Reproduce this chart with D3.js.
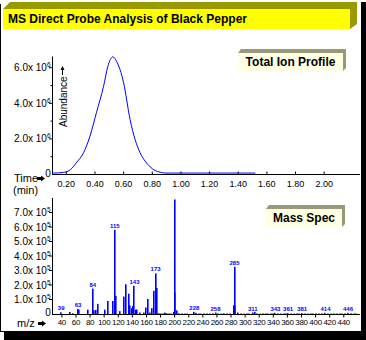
<!DOCTYPE html>
<html><head><meta charset="utf-8">
<script src="https://cdn.jsdelivr.net/npm/d3@7"></script>
<style>html,body{margin:0;padding:0;background:#fff;} svg{display:block;font-family:"Liberation Sans",Arial,sans-serif;}</style>
</head><body><svg id="c" width="366" height="340"></svg>
<script>
// ---------- data ----------
const titleText = "MS Direct Probe Analysis of Black Pepper";
// Total ion profile (time in min, abundance x 1e6)
const ticTime  = [0.10,0.11,0.18,0.23,0.27,0.32,0.365,0.41,0.46,0.49,0.525,0.55,0.60,0.645,0.68,0.715,0.75,0.785,0.82,0.855,0.89,1.52];
const ticAbund = [0.08,0.08,0.12,0.28,0.66,1.22,2.15,3.47,4.96,6.08,6.61,6.37,5.15,3.09,1.97,1.22,0.75,0.43,0.22,0.13,0.08,0.08];
const ticYTicks = [2,4,6];
const ticYLabels = ["2.0x 10","4.0x 10","6.0x 10"];
const ticXTicks = [0.2,0.4,0.6,0.8,1.0,1.2,1.4,1.6,1.8,2.0];
const ticXLabels = ["0.20","0.40","0.60","0.80","1.00","1.20","1.40","1.60","1.80","2.00"];
// Mass spectrum (m/z, abundance x 1e5)
const msMz    = [39,51,56,63,65,77,84,86,89,91,101,105,113,115,117,122,128,131,135,137,139,141,143,145,147,151,156,159,162,165,168,171,173,175,178,186,189,199,200,201,203,206,228,230,258,270,284,285,286,290,311,314,343,361,381,414,446];
const msAbund = [0.12,0.14,0.05,0.35,0.3,0.3,1.75,0.25,0.28,0.7,0.3,0.9,0.9,5.8,1.25,0.2,1.2,2.05,1.4,0.6,0.4,0.55,1.95,0.3,0.3,0.1,0.1,0.45,1.03,0.1,0.4,1.6,2.8,1.8,0.05,0.1,0.05,0.15,1.47,7.9,0.25,0.05,0.15,0.08,0.1,0.05,0.6,3.25,0.6,0.1,0.1,0.15,0.08,0.06,0.06,0.08,0.08];
const msMinorMz    = [180,183,192,195,210,214,218,234,238,242,246,250,254,262,266,274,278,294,298,302,306,317,321,325,329,333,337,340,347,351,355,358,365,369,373,377,385,389,393,397,401,405,409,418,422,426,430,434,438,442,450,454,458];
const msMinorAbund = [0.06,0.05,0.06,0.05,0.06,0.05,0.06,0.06,0.05,0.06,0.06,0.05,0.06,0.06,0.05,0.06,0.06,0.06,0.05,0.06,0.06,0.06,0.05,0.06,0.06,0.05,0.06,0.06,0.06,0.05,0.06,0.06,0.06,0.05,0.06,0.06,0.06,0.05,0.06,0.06,0.06,0.05,0.06,0.06,0.05,0.06,0.06,0.06,0.05,0.06,0.06,0.05,0.06];
const msLabelMz = [39,63,84,115,143,173,228,258,285,311,343,361,381,414,446];
const msLabels  = ["39","63","84","115","143","173","228","258","285","311","343","361","381","414","446"];
const msYTicks = [1,2,3,4,5,6,7];
const msYLabels = ["1.0x 10","2.0x 10","3.0x 10","4.0x 10","5.0x 10","6.0x 10","7.0x 10"];
const msXTicks = [40,60,80,100,120,140,160,180,200,220,240,260,280,300,320,340,360,380,400,420,440];

// ---------- frame ----------
const svg = d3.select("#c");
const BLUE = "#0000ff";
svg.append("rect").attr("x",4).attr("y",2).attr("width",362).attr("height",338).attr("fill","#000");
svg.append("rect").attr("x",0).attr("y",0).attr("width",361).attr("height",332).attr("fill","#fff");
svg.append("line").attr("x1",0.5).attr("x2",0.5).attr("y1",4).attr("y2",332).attr("stroke","#000");
svg.append("line").attr("x1",0).attr("x2",361).attr("y1",331.5).attr("y2",331.5).attr("stroke","#000");

// title bar
svg.append("polygon").attr("points","3,9 10,2 357,2 357,24 350,29 350,9").attr("fill","#999900");
svg.append("rect").attr("x",3).attr("y",9).attr("width",347).attr("height",20).attr("fill","#ffff00");
svg.append("text").attr("x",8).attr("y",23).attr("font-size",12).attr("font-weight","bold").text(titleText);

function infoBox(x, y, w, h, label) {
  svg.append("polygon")
    .attr("points", `${x},${y} ${x+3},${y-4} ${x+w+3},${y-4} ${x+w+3},${y+h-3} ${x+w},${y+h} ${x+w},${y}`)
    .attr("fill","#999977");
  svg.append("rect").attr("x",x).attr("y",y).attr("width",w).attr("height",h).attr("fill","#ffffe4");
  svg.append("text").attr("x",x+w/2).attr("y",y+13).attr("text-anchor","middle")
    .attr("font-size",12).attr("font-weight","bold").text(label);
}

function yLabel(x, y, main, sup) {
  const t = svg.append("text").attr("x",x).attr("y",y).attr("text-anchor","end").attr("font-size",10);
  t.append("tspan").text(main);
  t.append("tspan").attr("dy",-4).attr("font-size",6.5).text(sup);
}

function arrowRight(x, y) {
  svg.append("path").attr("d", `M${x},${y-1.5} H${x+4} V${y-3} L${x+8},${y} L${x+4},${y+3} V${y+1.5} H${x} Z`).attr("fill","#000");
}

// ---------- top chart ----------
const x1 = d3.scaleLinear().domain([0.10, 2.25]).range([52, 360]);
const y1 = d3.scaleLinear().domain([0, 6.63]).range([174.5, 56.5]);

svg.append("line").attr("x1",52).attr("x2",360).attr("y1",y1(0)).attr("y2",y1(0)).attr("stroke","#000");
svg.append("line").attr("x1",52.5).attr("x2",52.5).attr("y1",y1(6.63)).attr("y2",y1(0)).attr("stroke","#000");
ticXTicks.forEach((t,i) => {
  svg.append("line").attr("x1",x1(t)).attr("x2",x1(t)).attr("y1",y1(0)).attr("y2",y1(0)-3).attr("stroke","#000");
  svg.append("text").attr("x",x1(t)).attr("y",187).attr("text-anchor","middle").attr("font-size",9).text(ticXLabels[i]);
});
ticYTicks.forEach((v,i) => {
  svg.append("line").attr("x1",49).attr("x2",52).attr("y1",y1(v)).attr("y2",y1(v)).attr("stroke","#000");
  yLabel(50.5, y1(v)+3.5, ticYLabels[i], "6");
});
[1,3,5].forEach(v => svg.append("line").attr("x1",50.5).attr("x2",52).attr("y1",y1(v)).attr("y2",y1(v)).attr("stroke","#000"));
svg.append("text").attr("x",48).attr("y",y1(0)+2).attr("text-anchor","middle").attr("font-size",10).text("0");

const line = d3.line().x((d,i) => x1(ticTime[i])).y(d => y1(d)).curve(d3.curveMonotoneX);
svg.append("path").attr("d", line(ticAbund)).attr("fill","none").attr("stroke",BLUE).attr("stroke-width",1);

// Abundance label + arrow
svg.append("text").attr("transform","translate(66.5,127) rotate(-90)").attr("font-size",10).text("Abundance");
svg.append("line").attr("x1",62.5).attr("x2",62.5).attr("y1",75).attr("y2",69).attr("stroke","#000");
svg.append("path").attr("d","M60.5,70 L62.5,66 L64.5,70 Z").attr("fill","#000");

svg.append("text").attr("x",14).attr("y",182).attr("font-size",11).text("Time");
svg.append("text").attr("x",13).attr("y",194).attr("font-size",11).text("(min)");
arrowRight(37, 178.5);

infoBox(238, 53, 105, 18, "Total Ion Profile");

// ---------- bottom chart ----------
const x2 = d3.scaleLinear().domain([26, 463]).range([52, 360]);
const y2 = d3.scaleLinear().domain([0, 8.0]).range([314, 198]);

svg.append("g").selectAll("rect").data(msMinorMz).join("rect")
  .attr("x", d => Math.round(x2(d)) - 0.5).attr("width", 1)
  .attr("y", (d,i) => y2(msMinorAbund[i])).attr("height", (d,i) => y2(0) - y2(msMinorAbund[i]))
  .attr("fill", BLUE);
svg.append("g").selectAll("rect").data(msMz).join("rect")
  .attr("x", d => Math.round(x2(d)) - 1).attr("width", 1.6)
  .attr("y", (d,i) => y2(msAbund[i])).attr("height", (d,i) => y2(0) - y2(msAbund[i]))
  .attr("fill", BLUE);
msLabelMz.forEach((m,i) => {
  const v = msAbund[msMz.indexOf(m)];
  svg.append("text").attr("x", x2(m)).attr("y", y2(v) - 2).attr("text-anchor","middle")
    .attr("font-size",6).attr("font-weight","bold").attr("fill",BLUE).text(msLabels[i]);
});

svg.append("line").attr("x1",52).attr("x2",360).attr("y1",y2(0)+0.5).attr("y2",y2(0)+0.5).attr("stroke","#000");
svg.append("line").attr("x1",52.5).attr("x2",52.5).attr("y1",y2(8.0)).attr("y2",y2(0)+1).attr("stroke","#000");
msXTicks.forEach(t => {
  svg.append("line").attr("x1",x2(t)).attr("x2",x2(t)).attr("y1",y2(0)).attr("y2",y2(0)+3.5).attr("stroke","#000");
  svg.append("text").attr("x",x2(t)).attr("y",325).attr("text-anchor","middle")
    .attr("font-family","'Liberation Sans Narrow','Liberation Sans',sans-serif")
    .attr("font-size",8).attr("letter-spacing",-0.3).text(t);
});
msYTicks.forEach((v,i) => {
  svg.append("line").attr("x1",49).attr("x2",52).attr("y1",y2(v)).attr("y2",y2(v)).attr("stroke","#000");
  yLabel(50.5, y2(v)+3.5, msYLabels[i], "5");
});
svg.append("text").attr("x",48).attr("y",y2(0)+2).attr("text-anchor","middle").attr("font-size",10).text("0");

svg.append("text").attr("x",17).attr("y",327).attr("font-size",11).text("m/z");
arrowRight(38, 323.5);

infoBox(266, 209, 76, 18, "Mass Spec");
</script>
</body></html>
